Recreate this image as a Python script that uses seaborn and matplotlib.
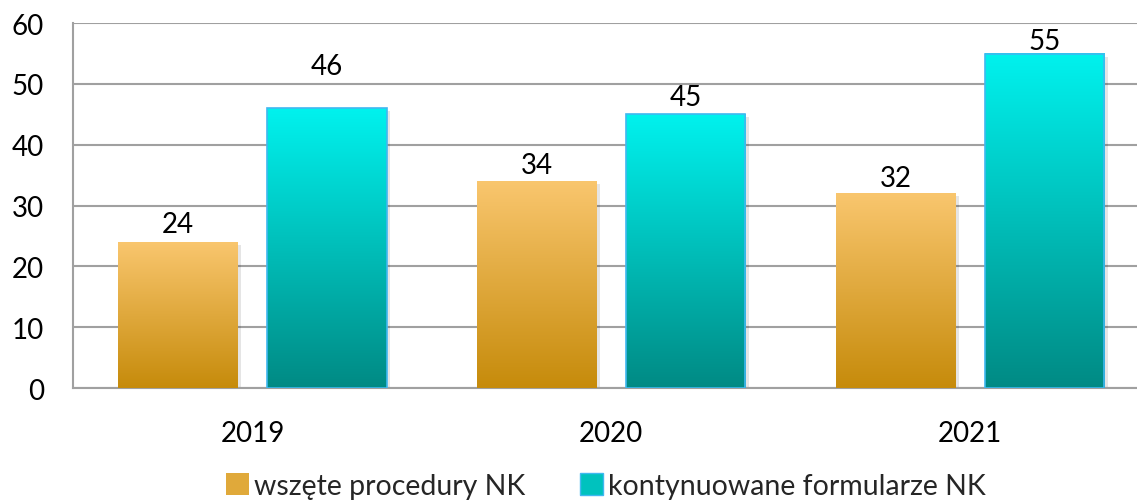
import numpy as np
import pandas as pd
import seaborn as sns
import matplotlib.pyplot as plt
from matplotlib.colors import LinearSegmentedColormap
from matplotlib.patches import Patch

years = ["2019", "2020", "2021"]
wszete = [24, 34, 32]
kontynuowane = [46, 45, 55]
series_names = ["wszęte procedury NK", "kontynuowane formularze NK"]
# label offsets above bars in points, as in the original
label_pads = [[4, 2, 2], [21, 3, 0]]

df = pd.DataFrame({
    "rok": years * 2,
    "liczba": wszete + kontynuowane,
    "seria": [series_names[0]] * 3 + [series_names[1]] * 3,
})

sns.set_theme(style="white")
plt.rcParams['font.family'] = ['Lato', 'DejaVu Sans']

fig = plt.figure(figsize=(11.37, 5.02), dpi=100)
# plot area runs slightly past the right edge, as in the original
ax = fig.add_axes([0.0642, 0.225, 0.947, 0.727])

sns.barplot(data=df, x="rok", y="liczba", hue="seria", ax=ax,
            width=0.83, gap=0.2, palette=["#E3AC3A", "#00C4C0"],
            legend=False, zorder=3)

grads = [
    LinearSegmentedColormap.from_list("or", ["#C68B0B", "#F9C66E"]),
    LinearSegmentedColormap.from_list("cy", ["#008A84", "#00F2EE"]),
]
edges = ["none", "#40B8F0"]
grad = np.linspace(0, 1, 256).reshape(-1, 1)

containers = list(ax.containers)
for s, cont in enumerate(containers):
    for i, bar in enumerate(cont):
        x0, y0 = bar.get_x(), bar.get_y()
        w, h = bar.get_width(), bar.get_height()
        bar.set_facecolor("none")
        bar.set_edgecolor(edges[s])
        bar.set_linewidth(1.2)
        bar.set_zorder(4)
        # soft shadow
        ax.bar(x0 + w / 2 + 0.01, h, width=w, bottom=-0.5, color="#000000",
               alpha=0.1, zorder=2, linewidth=0)
        ax.imshow(grad, extent=[x0, x0 + w, y0, y0 + h], origin="lower",
                  cmap=grads[s], aspect="auto", zorder=3)
        ax.annotate(str(int(h)), (x0 + w / 2, y0 + h),
                    xytext=(0, label_pads[s][i]), textcoords="offset points",
                    ha="center", va="bottom", fontsize=20, color="#000000")

ax.set_xlim(-0.5, 2.5)
ax.set_ylim(0, 60)
ax.set_yticks(range(0, 61, 10))
ax.yaxis.grid(True, color="#A0A0A0", linewidth=1.5, zorder=1)
ax.set_axisbelow(True)
ax.set_xlabel("")
ax.set_ylabel("")
ax.tick_params(axis="y", length=0, pad=21, labelsize=20, labelcolor="#000000")
ax.tick_params(axis="x", length=0, pad=23, labelsize=20, labelcolor="#000000")

for side in ["top", "right"]:
    ax.spines[side].set_visible(False)
for side in ["left", "bottom"]:
    ax.spines[side].set_color("#A0A0A0")
    ax.spines[side].set_linewidth(1.5)

handles = [Patch(facecolor="#E0A93A", edgecolor="none"),
           Patch(facecolor="#00C2BE", edgecolor="#40B8F0")]
ax.legend(handles, series_names, loc="center", bbox_to_anchor=(0.495, -0.268),
          ncol=2, frameon=False, fontsize=20.5, handlelength=0.8,
          handleheight=0.8, handletextpad=0.2, columnspacing=1.9)

fig.savefig("out.png", dpi=100)
